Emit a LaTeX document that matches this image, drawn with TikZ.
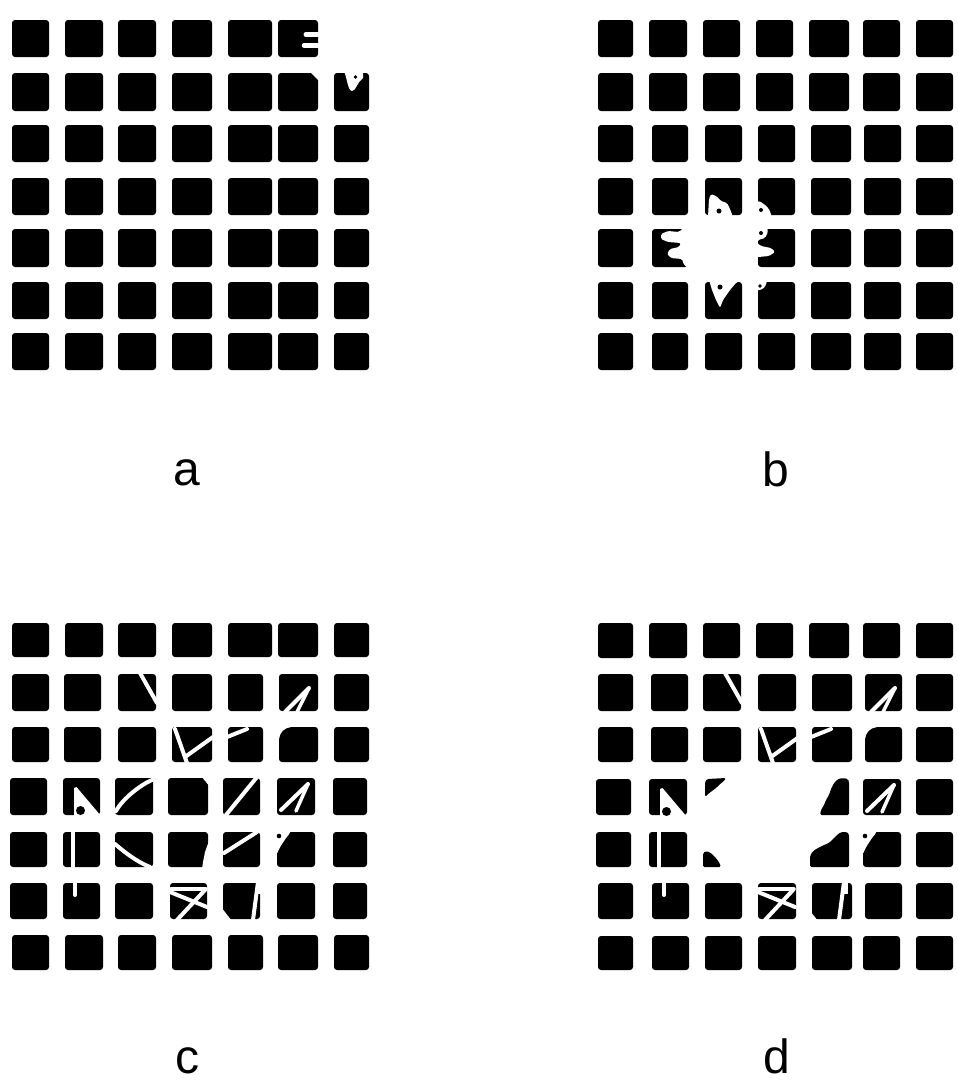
\documentclass[tikz,border=0pt]{standalone}
\usepackage{fontspec}
\setmainfont{Liberation Sans}
\newcommand\sqrow[3]{\foreach \xa/\xb in {#3}{\fill[sq] (\xa,#1) rectangle (\xb,#2);}}
\newcommand\putk[2]{\begin{scope}[shift={#1}]#2\end{scope}}
% crack shapes, local to the square's top-left corner
\newcommand\kA{\draw[crack] (22,-1) -- (39,29);}
\newcommand\kB{\draw[crack] (30,14) -- (6,38); \draw[crack,line width=3.5pt] (30,14) -- (18,38);}
\newcommand\kC{\draw[crack] (3,2) -- (15,36); \draw[crack] (13,30) -- (41,10);}
\newcommand\kD{\draw[crack] (-1,10) -- (19,2);}
\newcommand\kE{\fill[white] (-2,-2) -- (12,-2) -- (12,0) .. controls (5,1) and (1,5) .. (0,12) -- (-2,12) -- cycle;}
\newcommand\kF{\fill[white] (11,10) -- (13.5,9) -- (38,38) -- (11,38) -- cycle; \fill[black] (17.5,32.5) circle (4.5);}
\newcommand\kG{\draw[crack] (37,2) .. controls (27,6) and (8,20) .. (1,33);}
\newcommand\kH{\fill[white] (33,-2) -- (43,-2) -- (43,10) -- cycle;}
\newcommand\kI{\draw[crack] (34,-1) -- (3,37);}
\newcommand\kJ{\draw[crack] (31,6) -- (4,32); \draw[crack,line width=3.5pt] (31,6) -- (19,33);}
\newcommand\kK{\draw[crack,line width=4.5pt] (10,-2) -- (10,38);}
\newcommand\kL{\draw[crack] (0,12) .. controls (8,19) and (22,30) .. (35,35);}
\newcommand\kM{\fill[white] (41,9) -- (42,9) -- (42,37) -- (34,37) -- (35,30) -- (37,20) -- cycle;}
\newcommand\kN{\draw[crack] (34,0) -- (1,21);}
\newcommand\kO{\fill[wf] (-2,-2) -- (14,-2) -- (13,1) -- (9,6) -- (5,12) -- (2,17) -- (0,22) -- (-2,22) -- cycle; \fill[black] (2,4) circle (2.3);}
\newcommand\kP{\draw[crack] (12,-2) -- (12,12);}
\newcommand\kQ{\draw[crack,line width=3.5pt] (1,6) -- (36,6); \draw[crack] (35,7) -- (7,37); \draw[crack] (0,9) -- (37,24);}
\newcommand\kR{\draw[crack] (35,-1) -- (30,37); \fill[white] (33,-2) rectangle (39,11); \fill[white] (-2,24) -- (-2,38) -- (9,38) -- cycle;}
\begin{document}
\begin{tikzpicture}[x=1pt,y=-1pt,
  sq/.style={fill=black,rounded corners=3pt},
  crack/.style={draw=white,line width=4pt,line cap=round,line join=round},
  wf/.style={fill=white,rounded corners=1.5pt},
  bf/.style={fill=black,rounded corners=1.5pt},
  lab/.style={font=\fontsize{48}{50}\selectfont,anchor=base,inner sep=0pt}]
\useasboundingbox (0,0) rectangle (958,1082);
\fill[white] (0,0) rectangle (958,1082);

% ---------------- panel a ----------------
\sqrow{20}{57}{12/49,65/103,118/156,172/212,228/272,278/318}
\sqrow{73}{111}{12/49,65/103,118/156,172/212,228/272,278/318,334/369}
\sqrow{125}{162}{12/49,65/103,118/156,172/212,228/272,278/318,334/369}
\sqrow{178}{215}{12/49,65/103,118/156,172/212,228/272,278/318,334/369}
\sqrow{229}{267}{12/49,65/103,118/156,172/212,228/272,278/318,334/369}
\sqrow{282}{319}{12/49,65/103,118/156,172/212,228/272,278/318,334/369}
\sqrow{333}{370}{12/49,65/103,118/156,172/212,228/272,278/318,334/369}
\draw[crack,line width=5pt] (306,34.5) -- (322,34.5);
\draw[crack,line width=4.5pt] (304,45.5) -- (322,45.5);
\fill[white] (310,72) -- (320,72) -- (320,82) -- cycle;
\fill[white] (344,71) .. controls (347,78) and (348,91) .. (352,91) .. controls (356,91) and (357,82) .. (363,78) -- (363,71) -- cycle;
\fill[black] (355.5,77) circle (1.8);

% ---------------- panel b ----------------
\sqrow{20}{57}{598/633,649/687,703/740,756/793,809/849,863/900,916/953}
\sqrow{73}{111}{598/633,649/687,703/740,756/793,809/849,863/900,916/953}
\sqrow{125}{162}{598/633,652/688,705/742,758/795,811/851,864/901,916/953}
\sqrow{178}{215}{598/633,652/688,705/742,758/795,811/851,864/901,916/953}
\sqrow{229}{267}{598/633,652/688,705/742,758/795,811/851,864/901,916/953}
\sqrow{282}{319}{598/633,652/688,705/742,758/795,811/851,864/901,916/953}
\sqrow{333}{370}{598/633,652/688,705/742,758/795,811/851,864/901,916/953}
\fill[wf] (708,217) -- (709,199) -- (711,194) -- (716,196) -- (721,201) -- (727,203) -- (730,209) -- (733,217) -- cycle;
\fill[black] (719,211) circle (2.5);
\fill[wf] (754,217) -- (754,202) -- (759,201) -- (764,204) -- (769,209) -- (772,217) -- cycle;
\fill[black] (761,210) circle (2);
\fill[wf] (690,227) -- (683,228) -- (679,232) -- (668,231) -- (661,234) -- (661,239) -- (668,242) -- (681,243) -- (679,247) -- (670,249) -- (667,254) -- (671,258) -- (682,259) -- (684,265) -- (690,269) -- cycle;
\fill[white] (699,225) rectangle (746,270);
\fill[wf] (754,227) -- (767,227) -- (768,232) -- (765,238) -- (758,240) -- (757,243) -- (761,246) -- (771,248) -- (775,252) -- (769,256) -- (758,257) -- (754,258) -- cycle;
\fill[black] (761,233) circle (2);
\fill[wf] (709,280) -- (712,290) -- (716,300) -- (720,308) -- (723,300) -- (730,290) -- (735,284) -- (740,280) -- cycle;
\fill[black] (720,287) circle (2.5);
\fill[wf] (755,280) -- (767,280) -- (766,285) -- (763,289) -- (755,291) -- cycle;
\fill[black] (760,286) circle (1.8);

% ---------------- panel c ----------------
\sqrow{623}{657}{12/49,65/103,118/156,172/212,228/272,278/318,334/369}
\sqrow{674}{711}{12/49,64/101,118/156,172/212,228/263,279/318,334/369}
\sqrow{727}{762}{12/49,64/101,118/156,172/212,228/263,279/318,334/369}
\sqrow{778}{815}{10/47,63/100,115/153,168/208,223/260,277/315,333/367}
\sqrow{832}{867}{10/47,63/100,115/153,168/208,223/260,277/315,333/367}
\sqrow{883}{919}{10/47,63/100,115/153,170/207,223/260,277/315,333/367}
\sqrow{935}{970}{12/49,65/103,118/156,172/212,228/263,278/318,334/369}
\putk{(118,674)}{\kA}
\putk{(279,674)}{\kB}
\putk{(172,727)}{\kC}
\putk{(228,727)}{\kD}
\putk{(279,727)}{\kE}
\putk{(63,778)}{\kF}
\putk{(115,778)}{\kG}
\putk{(168,778)}{\kH}
\putk{(223,778)}{\kI}
\putk{(277,778)}{\kJ}
\putk{(63,832)}{\kK}
\putk{(115,832)}{\kL}
\putk{(168,832)}{\kM}
\putk{(223,832)}{\kN}
\putk{(277,832)}{\kO}
\putk{(63,883)}{\kP}
\putk{(170,883)}{\kQ}
\putk{(223,883)}{\kR}

% ---------------- panel d ----------------
\sqrow{623}{658}{598/633,649/687,703/740,756/793,809/849,863/900,916/953}
\sqrow{674}{711}{598/633,651/688,703/741,758/796,812/852,865/902,916/953}
\sqrow{727}{762}{598/633,651/688,703/741,758/796,812/852,865/902,916/953}
\sqrow{779}{815}{596/631,649/687,863/901,916/953}
\sqrow{832}{867}{596/631,649/687,863/901,916/953}
\sqrow{883}{919}{598/633,652/689,705/742,758/796,812/852,865/902,916/953}
\sqrow{936}{970}{598/633,652/689,705/742,758/796,812/852,863/900,916/953}
\fill[bf] (705,782) -- (707,779) -- (726,778) -- (724,781) -- (720,784) -- (716,788) -- (712,791) -- (708,794) -- (705,797) -- cycle;
\fill[bf] (820,815) -- (821,810) -- (824,805) -- (826,800) -- (829,795) -- (831,789) -- (834,783) -- (838,779) -- (843,778) -- (848,779) -- (849,782) -- (849,815) -- cycle;
\fill[bf] (703,867) -- (703,853) -- (706,851) -- (711,853) -- (715,857) -- (719,862) -- (721,867) -- cycle;
\fill[bf] (810,867) -- (810,856) -- (813,851) -- (818,848) -- (824,845) -- (829,843) -- (833,839) -- (837,835) -- (841,832) -- (847,832) -- (849,834) -- (849,867) -- cycle;
\putk{(703,674)}{\kA}
\putk{(865,674)}{\kB}
\putk{(758,727)}{\kC}
\putk{(812,727)}{\kD}
\putk{(865,727)}{\kE}
\putk{(649,779)}{\kF}
\putk{(863,779)}{\kJ}
\putk{(649,832)}{\kK}
\putk{(863,832)}{\kO}
\putk{(652,883)}{\kP}
\putk{(758,883)}{\kQ}
\putk{(809,883)}{\kR}

% ---------------- labels ----------------
\node[lab] (la) at (187,485) {a};
\node[lab] (lb) at (776,486) {b};
\node[lab] (lc) at (187,1073) {c};
\node[lab] (ld) at (777,1073) {d};
\end{tikzpicture}
\end{document}
